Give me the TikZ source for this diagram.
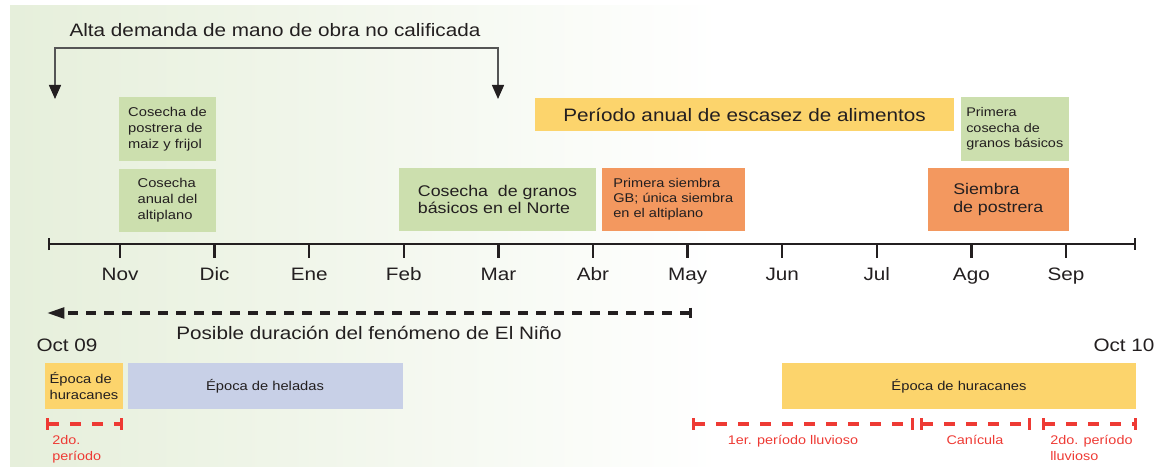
\documentclass[tikz,border=0pt]{standalone}
\usepackage{fontspec}
\setmainfont{Liberation Sans}[FakeStretch=1.15]
\usetikzlibrary{positioning,arrows.meta}
\definecolor{ink}{HTML}{231F20}
\definecolor{cfondo}{HTML}{E6EFDB}
\definecolor{cverde}{HTML}{CCDFAE}
\definecolor{cnaranja}{HTML}{F3985F}
\definecolor{camarillo}{HTML}{FCD46C}
\definecolor{cazul}{HTML}{C8D0E7}
\definecolor{crojo}{HTML}{EE3A34}
\definecolor{cgris}{HTML}{555555}
\begin{document}
\begin{tikzpicture}[x=0.75pt,y=-0.75pt,
	caja/.style = {inner sep=0pt, align=left, text=ink, font=\fontsize{9.6}{12}\selectfont},
	tam/.style 2 args = {minimum width=#1*0.75pt, minimum height=#2*0.75pt},
	verde/.style = {caja, fill=cverde},
	naranja/.style = {caja, fill=cnaranja},
	amarillo/.style = {caja, fill=camarillo},
	azul/.style = {caja, fill=cazul},
	grande/.style = {anchor=base, inner sep=0pt, text=ink, font=\fontsize{13.5}{16}\selectfont},
	eje/.style = {draw=ink, line width=1.8pt},
	demanda/.style = {draw=cgris, line width=1.1pt, arrows={Triangle[length=10.5pt,width=9pt,color=ink]-Triangle[length=10.5pt,width=9pt,color=ink]}},
	nino/.style = {draw=ink, line width=2.5pt, dash pattern=on 7pt off 6.5pt, arrows={Bar[width=8pt]-Triangle[length=13pt,width=8pt]}},
	periodo/.style = {draw=crojo, line width=2.4pt, dash pattern=on 8pt off 8.5pt, arrows={Bar[width=8.5pt]-Bar[width=8.5pt]}},
	rojo/.style = {inner sep=0pt, align=left, text=crojo, font=\fontsize{9.4}{12}\selectfont}]
	\useasboundingbox (0,0) rectangle (1159,467);
	\shade[left color=cfondo, right color=white] (10,6) rectangle (720,467);
	% demanda de mano de obra
	\node[grande] (alta) at (275,37) {Alta demanda de mano de obra no calificada};
	\coordinate (bl) at (55,99);
	\coordinate (br) at (498,99);
	\coordinate (btop) at (275,48);
	\draw[demanda] (bl) |- (btop) -| (br);
	% cajas de arriba
	\node[verde, tam={97}{64}] (cpost) at (167.5,129) {Cosecha de\\postrera de\\maiz y frijol};
	\node[verde, tam={97}{63}, below=5.25pt of cpost] (canual) {Cosecha\\anual del\\altiplano};
	\node[verde, tam={197}{63}, font=\fontsize{11.6}{13}\selectfont] (cnorte) at (497.5,199.5) {Cosecha\ \ de granos\\básicos en el Norte};
	\node[naranja, tam={143.5}{63}, right=3.75pt of cnorte, font=\fontsize{9.5}{11.25}\selectfont] (psiem) {Primera siembra\\GB; única siembra\\en el altiplano};
	\node[amarillo, tam={419}{33}, font=\fontsize{13.5}{16}\selectfont] (escasez) at (744.5,114.5) {Período anual de escasez de alimentos};
	\node[verde, tam={107.5}{64}, font=\fontsize{9.4}{11.6}\selectfont] (pcos) at (1014.75,129) {Primera\\cosecha de\\granos básicos};
	\node[naranja, tam={140.5}{63}, font=\fontsize{11.6}{13.5}\selectfont] (spost) at (998.25,199.5) {Siembra\\de postrera};
	% eje de meses
	\coordinate (e0) at (48,244);
	\coordinate (e1) at (1136,244);
	\draw[eje, arrows={Bar[width=9pt]-Bar[width=9pt]}] (e0) -- (e1);
	\foreach \m [count=\i from 0] in {Nov,Dic,Ene,Feb,Mar,Abr,May,Jun,Jul,Ago,Sep}{
		\coordinate (t\i) at (120+94.6*\i,244);
		\draw[eje] (t\i) -- ++(0,14);
		\node[grande] (m\i) at (120+94.6*\i,280) {\m};
	}
	% El Nino
	\coordinate (nf) at (692,313);
	\coordinate (ni) at (47,313);
	\draw[nino] (nf) -- (ni);
	\node[grande] (posible) at (369,339) {Posible duración del fenómeno de El Niño};
	\node[grande] (oct9) at (67,351) {Oct 09};
	\node[grande] (oct10) at (1124,351) {Oct 10};
	% epocas
	\node[amarillo, tam={78}{46}] (hur1) at (84,386) {Época de\\huracanes};
	\node[azul, tam={275}{46}, right=3pt of hur1] (hel) {Época de heladas};
	\node[amarillo, tam={354}{46}] (hur2) at (959,386) {Época de huracanes};
	% periodos de lluvia
	\coordinate (r0) at (46,424);
	\coordinate (r1) at (123,424);
	\coordinate (r2) at (692,424);
	\coordinate (r3) at (914,424);
	\coordinate (r4) at (920,424);
	\coordinate (r5) at (1031,424);
	\coordinate (r6) at (1042,424);
	\coordinate (r7) at (1137,424);
	\foreach \a/\b in {r0/r1,r2/r3,r4/r5,r6/r7}
		\draw[periodo] (\a) -- (\b);
	\node[rojo, anchor=north west] (lp1) at (52,435) {2do.\\período};
	\node[rojo, anchor=base] (lp2) at (793,444) {1er. período lluvioso};
	\node[rojo, anchor=base] (lp3) at (975,444) {Canícula};
	\node[rojo, anchor=north west] (lp4) at (1050,435) {2do. período\\lluvioso};
\end{tikzpicture}
\end{document}
